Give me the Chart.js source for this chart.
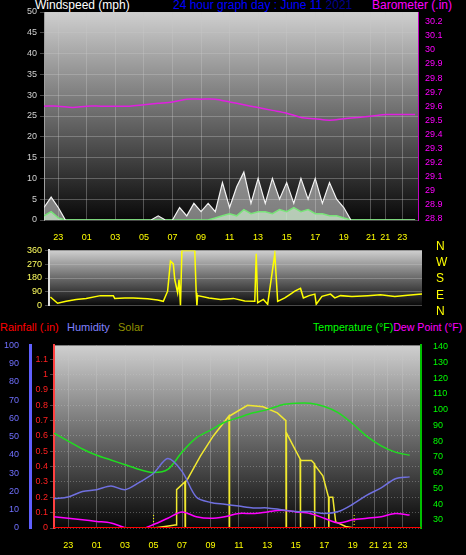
<!DOCTYPE html>
<html><head><meta charset="utf-8">
<script src="https://cdn.jsdelivr.net/npm/chart.js@4.4.1/dist/chart.umd.min.js"></script>
<style>
body{margin:0;background:#000;width:466px;height:555px;overflow:hidden;font-family:"Liberation Sans",Arial,sans-serif;position:relative}
.t{position:absolute;font-size:11px;white-space:nowrap;line-height:12px}
.c{position:absolute;left:0;width:466px}
</style></head><body>
<div class="t" style="left:35px;top:-1px;color:#fff;font-size:12px">Windspeed (mph)</div>
<div class="t" style="left:173px;top:-1px;color:#0000ff;font-size:12px">24 hour graph day : June 11 <span style="color:#000090">2021</span></div>
<div class="t" style="left:372px;top:-1px;color:#ff00ff;font-size:12px">Barometer (.in)</div>
<div class="c" style="top:0;height:242px"><canvas id="c1"></canvas></div>
<div class="c" style="top:242px;height:72px"><canvas id="c2"></canvas></div>
<div class="t" style="left:436px;top:238px;color:#ffff00;font-size:12px;line-height:16.2px">N<br>W<br>S<br>E<br>N</div>
<div class="t" style="left:0;top:321px;color:#ff0000">Rainfall (.in)</div>
<div class="t" style="left:67px;top:321px;color:#8080ff">Humidity</div>
<div class="t" style="left:118px;top:321px;color:#909000">Solar</div>
<div class="t" style="left:313px;top:321px;color:#00ff00;font-size:10.6px">Temperature (°F)<span style="color:#ff00ff">Dew Point (°F)</span></div>
<div class="c" style="top:336px;height:219px"><canvas id="c3"></canvas></div>
<script>
// hours since 22:00 the previous day
var TOP_TICK_T = [1, 3, 5, 7, 9, 11, 13, 15, 17, 19, 21, 22.9, 23.9, 25.1];
var BOT_TICK_T = [1, 3, 5, 7, 9, 11, 13, 15, 17, 19, 21, 22.5, 23.45, 24.5];
var TICK_LABELS = ["23", "01", "03", "05", "07", "09", "11", "13", "15", "17", "19", "21", "21", "23"];

var WIND_T = [];
for (var i = 0; i <= 52; i++) WIND_T.push(i / 2);
var GUST = [3, 5.5, 3, 0, 0, 0, 0, 0, 0, 0, 0, 0, 0, 0, 0, 0, 1, 0, 0,
  3, 1, 4, 2, 4, 2, 9, 3, 8, 11.5, 4, 10, 4, 10, 5, 9, 4, 10, 5, 10, 4, 9, 5, 3, 0,
  0, 0, 0, 0, 0, 0, 0, 0, 0];
var AVG = [1, 2, 0.5, 0, 0, 0, 0, 0, 0, 0, 0, 0, 0, 0, 0, 0, 0, 0, 0, 0, 0, 0, 0, 0,
  0.5, 1, 1.5, 1, 2.5, 1.5, 2, 2, 1.5, 2.5, 2, 3, 2, 2.5, 1.5, 1.5, 1, 1, 0.5, 0,
  0, 0, 0, 0, 0, 0, 0, 0, 0];

var HOUR_T = [0, 1, 2, 3, 4, 5, 6, 7, 8, 9, 10, 11, 12, 13, 14, 15, 16, 17, 18, 19, 20, 21, 22, 23, 24, 25, 26];
var BARO = [29.6, 29.6, 29.59, 29.6, 29.6, 29.6, 29.6, 29.61, 29.62, 29.63, 29.65, 29.65, 29.65,
  29.63, 29.61, 29.59, 29.57, 29.55, 29.52, 29.51, 29.5, 29.51, 29.52, 29.53, 29.54, 29.54, 29.54];

var DIR_T = [0.4, 0.9, 1.5, 2.2, 2.9, 3.9, 4.8, 4.9, 5.6, 6.2, 7.2, 7.9, 8.3, 8.6, 8.8, 9.0, 9.1, 9.3, 9.4, 9.5,
  9.6, 10.5, 10.6, 10.65, 10.7, 11.5, 12.3, 13.2, 14.0, 14.7, 14.8, 14.9, 15.3, 15.6, 16.1, 16.3,
  16.8, 17.2, 17.5, 17.9, 18.1, 18.5, 18.9, 19.0, 19.4, 20.0, 20.3, 20.7, 21.5, 22.6, 23.5, 24.5, 25.4, 26.4];
var DIR_V = [56, 15, 28, 40, 47, 65, 65, 47, 50, 50, 45, 37, 28, 94, 290, 272, 170, 84, 170, 0,
  360, 360, 84, 0, 65, 50, 40, 47, 30, 28, 338, 19, 40, 9, 338, 28,
  50, 75, 94, 112, 50, 65, 75, 9, 60, 75, 50, 65, 60, 65, 70, 60, 68, 75];

var TEMP = [85, 80, 75, 71, 68, 65, 62, 60, 62, 73, 82, 87, 92, 95, 98, 100, 103, 104, 104, 102, 98, 91, 83, 77, 73, 71];
var HUM = [16, 17, 20, 21, 23, 21, 25, 30, 38, 31, 17, 14, 13, 12, 11, 11, 10, 9, 9, 8, 9, 13, 18, 22, 27, 28];
var DEW = [32, 31, 30, 29, 28, 25, 24, 27, 31, 35, 32, 31, 32, 34, 34, 35, 36, 35, 34, 31, 28, 30, 31, 32, 34, 33];
var SOLAR_T = [0, 7.0, 7.8, 8.5, 8.6, 8.62, 9.2, 9.22, 9.24, 9.4, 10.3, 11.2, 12.3, 12.32, 12.34, 13.6, 14.7, 15.7,
  16.3, 16.32, 16.34, 16.9, 17.3, 17.32, 17.34, 18.1, 18.3, 18.32, 18.34, 18.9, 19.3, 19.32, 19.34,
  19.6, 19.8, 20.5, 21.1, 25.8];
var SOLAR = [0, 0, 0.01, 0.02, 0.02, 0.25, 0.3, 0, 0.3, 0.32, 0.47, 0.6, 0.73, 0, 0.73, 0.8, 0.79, 0.75,
  0.7, 0, 0.62, 0.52, 0.45, 0, 0.44, 0.44, 0.42, 0, 0.41, 0.34, 0.2, 0, 0.2, 0.2, 0.04, 0.01, 0, 0];
var SUNRISE_T = [7.0, 7.0];
var SUNSET_T = [21.1, 21.1];
var SUN_MARK = [0, 0.09];
var RAIN_T = [0, 25.8];
var RAIN = [0, 0];

function pts(xs, ys) { return ys.map(function (y, i) { return { x: xs[i], y: y }; }); }

var bgPlugin = {
  id: "bg",
  beforeDraw: function (ch) {
    var a = ch.chartArea, ctx = ch.ctx;
    var g = ctx.createLinearGradient(0, a.top, 0, a.bottom);
    g.addColorStop(0, "#cfcfcf"); g.addColorStop(0.5, "#6a6a6a"); g.addColorStop(1, "#080808");
    ctx.save(); ctx.fillStyle = g; ctx.fillRect(a.left, a.top, a.right - a.left, a.bottom - a.top); ctx.restore();
  }
};
var FONT = { family: "Liberation Sans", size: 9 };
function fixW(w) { return function (s) { s.width = w; }; }
function fixH(h) { return function (s) { s.height = h; }; }
var GRID = { color: "rgba(200,200,200,0.35)", lineWidth: 1, borderDash: [1, 2], drawTicks: true, tickLength: 4 };

function xAxis(min, max, tickT, show, h) {
  return {
    type: "linear", min: min, max: max, display: show !== false,
    afterBuildTicks: function (s) { s.ticks = tickT.map(function (v) { return { value: v }; }); },
    afterFit: fixH(show === false ? 0 : h),
    ticks: { autoSkip: false, maxRotation: 0, color: "#ffff00", font: FONT, padding: 4,
      callback: function (v, i) { return TICK_LABELS[i]; } },
    grid: { color: "rgba(200,200,200,0.35)", borderDash: [1, 2], tickColor: "transparent" },
    border: { display: false }
  };
}
var common = { responsive: true, maintainAspectRatio: false, animation: false,
  plugins: { legend: { display: false }, tooltip: { enabled: false } },
  elements: { point: { radius: 0 }, line: { tension: 0 } } };

new Chart(document.getElementById("c1"), {
  type: "line",
  data: { datasets: [
    { data: pts(WIND_T, GUST), borderColor: "#f4f4f4", borderWidth: 1.2, fill: "origin",
      backgroundColor: "rgba(220,220,220,0.55)", yAxisID: "y" },
    { data: pts(WIND_T, AVG), borderColor: "#00ee00", borderWidth: 1.5, fill: "origin",
      backgroundColor: "rgba(190,255,190,0.7)", yAxisID: "y" },
    { data: pts(HOUR_T, BARO), borderColor: "#e020e0", borderWidth: 1.5, yAxisID: "yb", tension: 0.3 }
  ] },
  options: Object.assign({}, common, {
    layout: { padding: { top: 12, bottom: 2 } },
    scales: {
      x: xAxis(0, 26.2, TOP_TICK_T, true, 20),
      y: { min: 0, max: 50, afterFit: fixW(44),
        ticks: { stepSize: 5, color: "#d0d0d0", font: FONT, padding: 3 },
        grid: GRID, border: { color: "#a0a0a0" } },
      yb: { position: "right", min: 28.79, max: 30.27, afterFit: fixW(48),
        afterBuildTicks: function (s) { var t = []; for (var v = 28.8; v < 30.25; v += 0.1) t.push({ value: +v.toFixed(1) }); s.ticks = t; },
        ticks: { color: "#ff00ff", font: FONT, padding: 4, callback: function (v) { return +v.toFixed(1); } },
        grid: { display: false, tickColor: "#ff00ff", tickLength: 3 }, border: { color: "#c000c0", width: 1, dash: [1, 1] } }
    }
  }),
  plugins: [bgPlugin]
});

new Chart(document.getElementById("c2"), {
  type: "line",
  data: { datasets: [{ data: pts(DIR_T, DIR_V), borderColor: "#ffff00", borderWidth: 1.5 }] },
  options: Object.assign({}, common, {
    layout: { padding: { top: 4, bottom: 3 } },
    scales: {
      x: xAxis(0.3, 26.4, TOP_TICK_T, false, 0),
      y: { min: 0, max: 360, afterFit: fixW(49),
        ticks: { stepSize: 90, color: "#ffff60", font: FONT, padding: 3 },
        grid: GRID, border: { color: "#e0e0e0", width: 2 } },
      yr: { position: "right", display: true, afterFit: fixW(44), ticks: { display: false },
        grid: { display: false }, border: { display: false } }
    }
  }),
  plugins: [bgPlugin]
});

new Chart(document.getElementById("c3"), {
  type: "line",
  data: { datasets: [
    { data: pts(RAIN_T, RAIN), borderColor: "#ff0000", borderWidth: 2, yAxisID: "yr" },
    { data: pts(HOUR_T, HUM), borderColor: "#7070e0", borderWidth: 1.5, yAxisID: "yh", tension: 0.3 },
    { data: pts(HOUR_T, TEMP), borderColor: "#20dd20", borderWidth: 1.5, yAxisID: "yt", tension: 0.3 },
    { data: pts(HOUR_T, DEW), borderColor: "#ff00ff", borderWidth: 1.5, yAxisID: "yt", tension: 0.3 },
    { data: pts(SOLAR_T, SOLAR), borderColor: "#f0e830", borderWidth: 1.5, yAxisID: "ys" },
    { data: pts(SUNRISE_T, SUN_MARK), borderColor: "#ffff00", borderWidth: 1, borderDash: [1, 2], yAxisID: "ys" },
    { data: pts(SUNSET_T, SUN_MARK), borderColor: "#ffff00", borderWidth: 1, borderDash: [1, 2], yAxisID: "ys" }
  ] },
  options: Object.assign({}, common, {
    layout: { padding: { top: 1, bottom: 0 } },
    scales: {
      x: xAxis(0, 25.8, BOT_TICK_T, true, 27),
      yr: { position: "left", min: 0, max: 1.19, afterFit: fixW(24),
        afterBuildTicks: function (s) { var t = []; for (var k = 0; k <= 11; k++) t.push({ value: k / 10 }); s.ticks = t; },
        ticks: { color: "#ff2020", font: FONT, padding: 2, callback: function (v) { return +v.toFixed(1); } },
        grid: GRID, border: { color: "#ff4040", dash: [1, 2], width: 2 } },
      yh: { position: "left", min: 0, max: 100, afterFit: fixW(30),
        ticks: { stepSize: 10, color: "#7070ff", font: FONT, padding: 3 },
        grid: { display: false, tickColor: "#7070ff" }, border: { color: "#6060ff", width: 3 } },
      ys: { display: false, min: 0, max: 1.19 },
      yt: { position: "right", min: 24.8, max: 140.8, afterFit: fixW(45),
        afterBuildTicks: function (s) { var t = []; for (var k = 30; k <= 140; k += 10) t.push({ value: k }); s.ticks = t; },
        ticks: { color: "#00ff00", font: FONT, padding: 4 },
        grid: { display: false, tickColor: "#00c000" }, border: { color: "#00c000", width: 2 } }
    }
  }),
  plugins: [bgPlugin]
});
</script>
</body></html>
